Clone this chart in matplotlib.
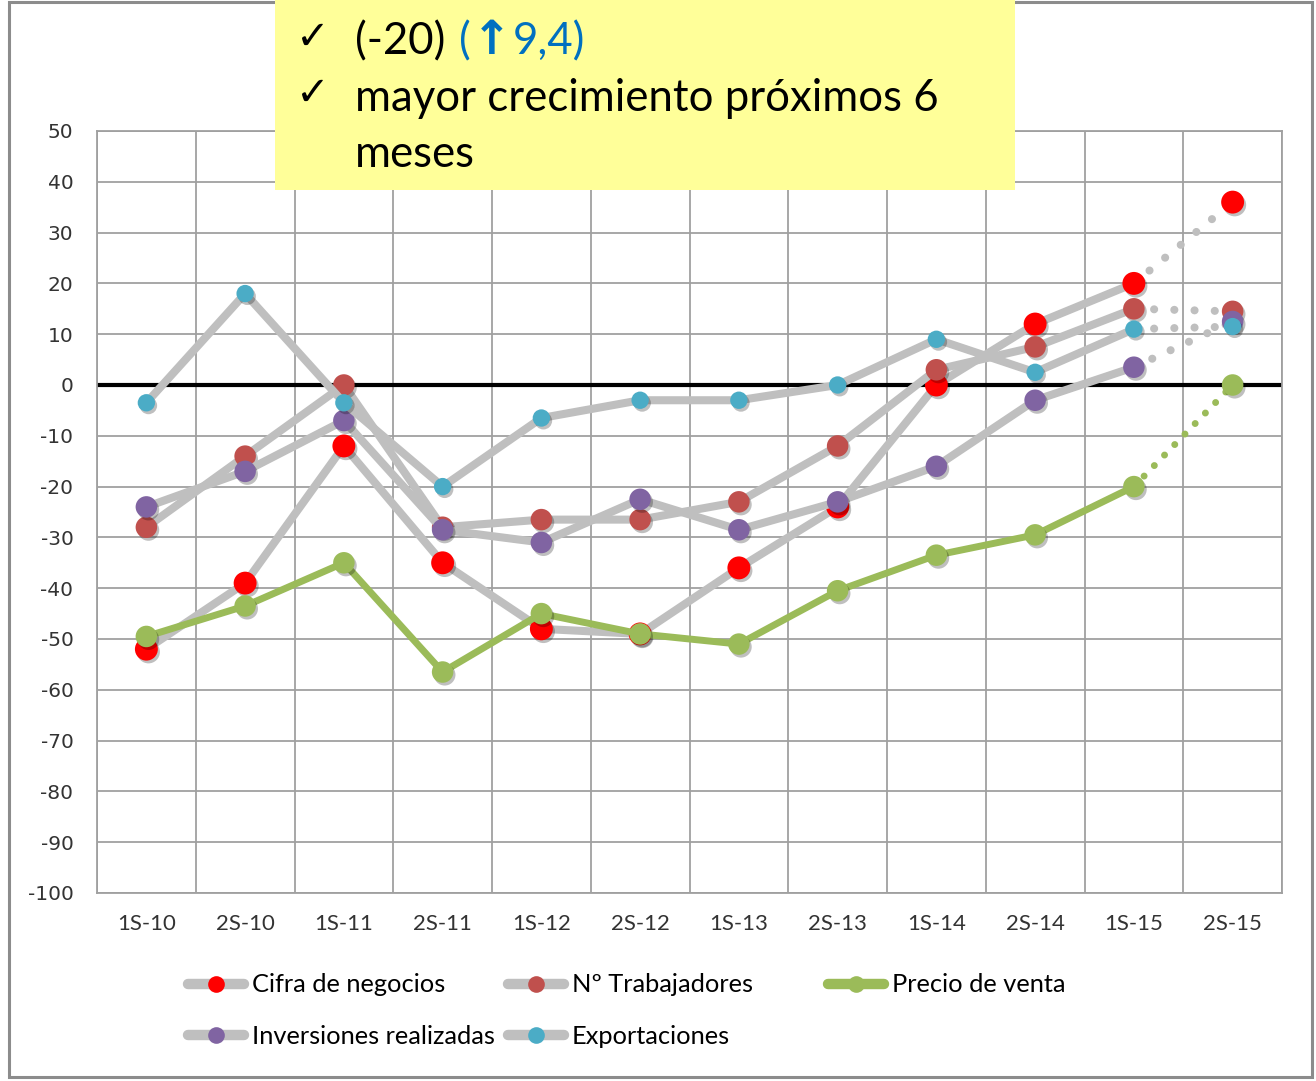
import numpy as np
import matplotlib
matplotlib.use('Agg')
import matplotlib.pyplot as plt
import matplotlib.patheffects as pe
from matplotlib.patches import Rectangle
from matplotlib.lines import Line2D

plt.rcParams['axes.unicode_minus'] = False

periods = ['1S-10', '2S-10', '1S-11', '2S-11', '1S-12', '2S-12',
           '1S-13', '2S-13', '1S-14', '2S-14', '1S-15', '2S-15']
cifra = [-52, -39, -12, -35, -48, -49, -36, -24, 0, 12, 20, 36]
trabajadores = [-28, -14, 0, -28, -26.5, -26.5, -23, -12, 3, 7.5, 15, 14.5]
precio = [-49.5, -43.5, -35, -56.5, -45, -49, -51, -40.5, -33.5, -29.5, -20, 0]
inversiones = [-24, -17, -7, -28.5, -31, -22.5, -28.5, -23, -16, -3, 3.5, 12.5]
exportaciones = [-3.5, 18, -3.5, -20, -6.5, -3, -3, 0, 9, 2.5, 11, 11.5]
y_ticks = list(range(-100, 51, 10))

GRAY = '#BFBFBF'
# name, values, line colour, marker colour, marker size, line width, dot period
series = [
    ('Cifra de negocios', cifra, GRAY, '#FF0000', 16.5, 5.8, 2.5),
    ('Nº Trabajadores', trabajadores, GRAY, '#C0504D', 15.5, 5.8, 2.5),
    ('Precio de venta', precio, '#9BBB59', '#9BBB59', 15.5, 5.0, 2.1),
    ('Inversiones realizadas', inversiones, GRAY, '#8064A2', 15.5, 5.8, 2.5),
    ('Exportaciones', exportaciones, GRAY, '#4BACC6', 12.5, 5.8, 2.5),
]

W, H = 1316, 1081
fig = plt.figure(figsize=(W / 100, H / 100), dpi=100)


def fx(px):
    return px / W


def fy(py):
    return 1 - py / H


ax = fig.add_axes([fx(97), fy(893), fx(1282) - fx(97), fy(131) - fy(893)])
x = np.arange(len(periods))
ax.set_xlim(-0.5, len(periods) - 0.5)
ax.set_ylim(-100, 50)

shadow = [pe.SimplePatchShadow(offset=(1.5, -2), shadow_rgbFace='k', alpha=0.25), pe.Normal()]

for i, (name, vals, lc, mc, ms, lw, period) in enumerate(series):
    z = 3 + 2 * i
    vals = np.array(vals, dtype=float)
    ax.plot(x[:-1], vals[:-1], color=lc, lw=lw, solid_capstyle='round',
            solid_joinstyle='round', zorder=z)
    ax.plot(x[-2:], vals[-2:], color=lc, lw=lw, linestyle=(0, (0.01, period)),
            dash_capstyle='round', zorder=z)
    ax.plot(x, vals, linestyle='none', marker='o', ms=ms, mfc=mc, mec=mc,
            mew=0, zorder=z + 1, path_effects=shadow)

ax.axhline(0, color='black', lw=3, zorder=2)

ax.set_xticks(x, periods)
ax.set_xticks(np.arange(-0.5, len(periods), 1), minor=True)
ax.set_yticks(y_ticks)
ax.grid(which='minor', axis='x', color='#A0A0A0', lw=1.3)
ax.grid(which='major', axis='y', color='#A0A0A0', lw=1.3)
ax.grid(which='major', axis='x', visible=False)
ax.set_axisbelow(True)
for s in ax.spines.values():
    s.set_color('#A0A0A0')
    s.set_linewidth(1.3)
ax.tick_params(which='both', length=0)
ax.tick_params(axis='y', pad=17, labelsize=14.5, labelcolor='#333333')
ax.tick_params(axis='x', pad=15, labelsize=16, labelcolor='#333333')
for lab in ax.get_xticklabels():
    lab.set_family('Lato')

# legend, laid out like the Excel one (fixed column starts)
legend_pos = [(188, 985), (508, 985), (828, 985), (188, 1036), (508, 1036)]
for (name, vals, lc, mc, ms, lw, period), (lx, ly) in zip(series, legend_pos):
    h = Line2D([], [], color=lc, lw=7.5, solid_capstyle='round', marker='o',
               ms=12, mfc=mc, mec=mc, mew=0)
    fig.legend([h], [name], loc='center left', bbox_to_anchor=(fx(lx), fy(ly)),
               bbox_transform=fig.transFigure, frameon=False, borderpad=0,
               borderaxespad=0, handlelength=2.2, handletextpad=0.3,
               prop={'family': 'Lato', 'size': 18.3})

# outer chart frame
fig.add_artist(Rectangle((fx(9), fy(1077)), fx(1312) - fx(9), fy(2) - fy(1077),
                         transform=fig.transFigure, fill=False, ec='#8C8C8C', lw=2.2))

# yellow note box
fig.add_artist(Rectangle((fx(275), fy(190)), fx(1015) - fx(275), fy(0) - fy(190) + 0.01,
                         transform=fig.transFigure, fc='#FFFF99', ec='none', zorder=10))

fs = 31.5
for by in (49, 105):
    fig.text(fx(296), fy(by), '✓', fontsize=29, family='DejaVu Sans',
             weight='bold', va='baseline', zorder=11)

renderer = fig.canvas.get_renderer()
parts = [('(-20)', 'black', 'Lato', 'normal', 0, fs),
         ('(', '#0070C0', 'Lato', 'normal', 14, fs),
         ('↑', '#0070C0', 'DejaVu Sans', 'bold', 1, 34),
         ('9,4)', '#0070C0', 'Lato', 'normal', 1, fs)]
cur = 355
for txt, col, fam, wt, gap, size in parts:
    cur += gap
    t = fig.text(fx(cur), fy(54), txt, fontsize=size, color=col, family=fam,
                 weight=wt, va='baseline', zorder=11)
    bb = t.get_window_extent(renderer)
    cur = bb.x1

fig.text(fx(355), fy(111), 'mayor crecimiento próximos 6', fontsize=fs,
         family='Lato', va='baseline', zorder=11)
fig.text(fx(355), fy(167), 'meses', fontsize=fs, family='Lato',
         va='baseline', zorder=11)

fig.savefig('out.png', dpi=100)
